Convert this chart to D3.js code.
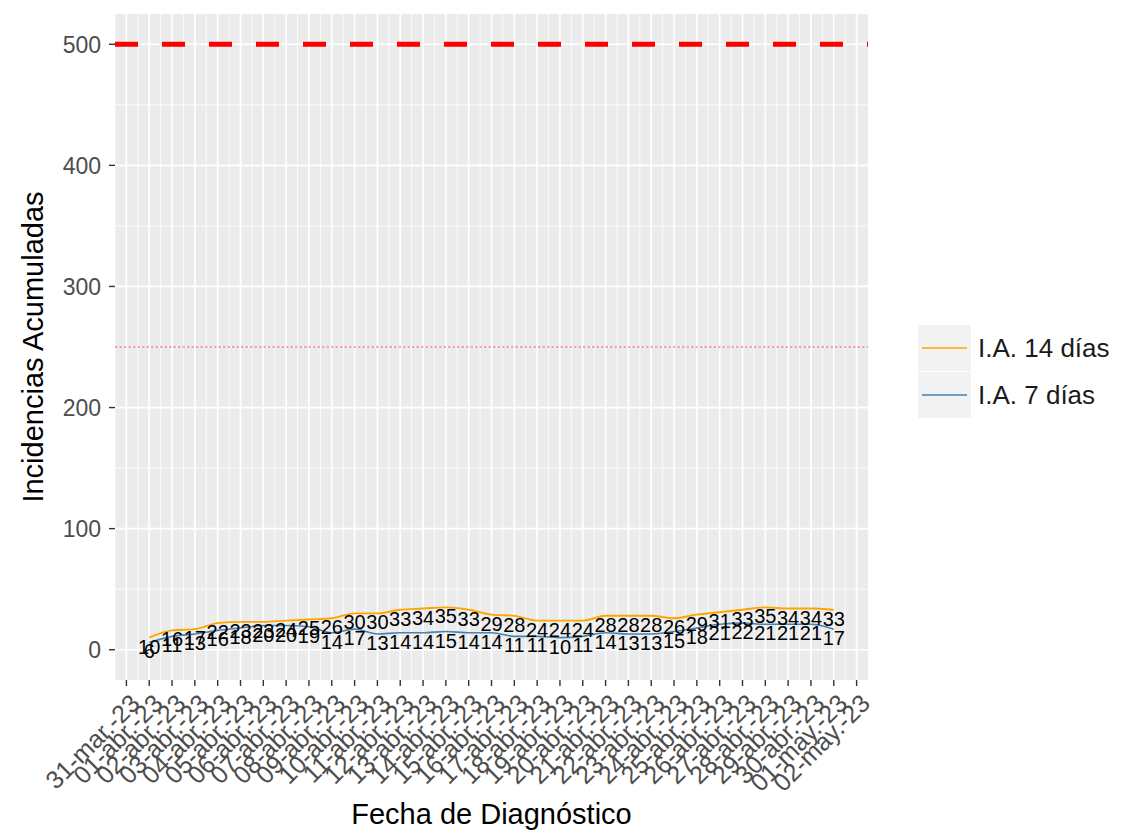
<!DOCTYPE html>
<html><head><meta charset="utf-8">
<script src="https://cdn.jsdelivr.net/npm/d3@7"></script>
<style>body{margin:0;background:#fff}svg{display:block;font-family:"Liberation Sans",Arial,sans-serif}</style>
</head><body>
<svg id="chart" width="1124" height="831"></svg>
<script>
// ---- data ----
const startDate = "2023-04-01";           // first diagnosis date (01-abr-23)
const ia14 = [10,16,17,22,23,23,24,25,26,30,30,33,34,35,33,29,28,24,24,24,28,28,28,26,29,31,33,35,34,34,33];
const ia7  = [6,11,13,16,18,20,20,19,14,17,13,14,14,15,14,14,11,11,10,11,14,13,13,15,18,21,22,21,21,21,17];
const seriesNames = ["I.A. 14 días", "I.A. 7 días"];
const seriesColors = ["#FFA500", "#4682B4"];
const tickStart = "2023-03-31", tickEnd = "2023-05-02";
const monthAbbr = ["ene.","feb.","mar.","abr.","may.","jun.","jul.","ago.","sept.","oct.","nov.","dic."];
const yTicks = [0,100,200,300,400,500];
const yMinor = [50,150,250,350,450];
const thresholdHigh = 500, thresholdMid = 250;

// ---- layout ----
const P = {l:115, r:868, t:14, b:680};
const svg = d3.select("#chart");
const parse = d3.utcParse("%Y-%m-%d");
const d0 = parse(startDate);
const dates = ia14.map((_, i) => d3.utcDay.offset(d0, i));
const span = (dates[dates.length-1] - dates[0]);
const x = d3.scaleUtc().domain([new Date(+dates[0] - span*0.05), new Date(+dates[dates.length-1] + span*0.05)]).range([P.l, P.r]);
const y = d3.scaleLinear().domain([-25, 525]).range([P.b, P.t]);

// panel
svg.append("rect").attr("x",P.l).attr("y",P.t).attr("width",P.r-P.l).attr("height",P.b-P.t).attr("fill","#ebebeb");

const tickDates = d3.utcDay.range(parse(tickStart), d3.utcDay.offset(parse(tickEnd),1));
const minorDates = d3.utcHour.every(12).range(x.domain()[0], x.domain()[1]).filter(d => d.getUTCHours() === 12);

const g = svg.append("g");
g.selectAll(".vmin").data(minorDates).join("line")
  .attr("x1",d=>x(d)).attr("x2",d=>x(d)).attr("y1",P.t).attr("y2",P.b)
  .attr("stroke","#fff").attr("stroke-width",0.8);
g.selectAll(".hmin").data(yMinor).join("line")
  .attr("x1",P.l).attr("x2",P.r).attr("y1",d=>y(d)).attr("y2",d=>y(d))
  .attr("stroke","#fff").attr("stroke-width",0.8);
g.selectAll(".vmaj").data(tickDates).join("line")
  .attr("x1",d=>x(d)).attr("x2",d=>x(d)).attr("y1",P.t).attr("y2",P.b)
  .attr("stroke","#fff").attr("stroke-width",1.7);
g.selectAll(".hmaj").data(yTicks).join("line")
  .attr("x1",P.l).attr("x2",P.r).attr("y1",d=>y(d)).attr("y2",d=>y(d))
  .attr("stroke","#fff").attr("stroke-width",1.7);

// reference lines
svg.append("line").attr("x1",P.l).attr("x2",P.r).attr("y1",y(thresholdHigh)).attr("y2",y(thresholdHigh))
  .attr("stroke","#ff0000").attr("stroke-width",5).attr("stroke-dasharray","23 24");
svg.append("line").attr("x1",P.l).attr("x2",P.r).attr("y1",y(thresholdMid)).attr("y2",y(thresholdMid))
  .attr("stroke","#e8303a").attr("stroke-width",0.8).attr("stroke-dasharray","2.5 2");

// series
const series = [ia14, ia7];
const line = d3.line().x((d,i)=>x(dates[i])).y(d=>y(d)).curve(d3.curveMonotoneX);
series.forEach((s, k) => {
  svg.append("path").attr("d", line(s)).attr("fill","none")
    .attr("stroke", seriesColors[k]).attr("stroke-width", k===0 ? 1.9 : 1.6);
});
series.forEach((s) => {
  svg.append("g").selectAll("text").data(s).join("text")
    .attr("x",(d,i)=>x(dates[i])).attr("y",d=>y(d)+16)
    .attr("text-anchor","middle").attr("font-size",20).attr("fill","#000")
    .text(d=>d);
});

// axes
const fmt = d => `${d3.utcFormat("%d")(d)}-${monthAbbr[d.getUTCMonth()]}-${d3.utcFormat("%y")(d)}`;
const ax = svg.append("g");
ax.selectAll(".xt").data(tickDates).join("line")
  .attr("x1",d=>x(d)).attr("x2",d=>x(d)).attr("y1",P.b).attr("y2",P.b+6)
  .attr("stroke","#333").attr("stroke-width",1.4);
ax.selectAll(".xl").data(tickDates).join("text")
  .attr("transform",d=>`translate(${x(d)+2},${P.b+12}) rotate(-45)`)
  .attr("text-anchor","end").attr("dominant-baseline","hanging")
  .attr("font-size",25).attr("fill","#4d4d4d").text(fmt);
ax.selectAll(".yt").data(yTicks).join("line")
  .attr("x1",P.l-6).attr("x2",P.l).attr("y1",d=>y(d)).attr("y2",d=>y(d))
  .attr("stroke","#333").attr("stroke-width",1.4);
ax.selectAll(".yl").data(yTicks).join("text")
  .attr("x",P.l-14).attr("y",d=>y(d)).attr("dy","0.36em")
  .attr("text-anchor","end").attr("font-size",23).attr("fill","#4d4d4d").text(d=>d);

// titles
svg.append("text").attr("transform",`translate(43,${(P.t+P.b)/2}) rotate(-90)`)
  .attr("text-anchor","middle").attr("font-size",29).attr("fill","#000").text("Incidencias Acumuladas");
svg.append("text").attr("x",(P.l+P.r)/2).attr("y",824)
  .attr("text-anchor","middle").attr("font-size",29).attr("fill","#000").text("Fecha de Diagnóstico");

// legend
const lg = svg.append("g").attr("transform","translate(918,325)");
seriesNames.forEach((n,k) => {
  const cy = 23 + k*47;
  lg.append("rect").attr("x",0).attr("y",k*47).attr("width",53).attr("height",46).attr("fill","#f2f2f2");
  lg.append("line").attr("x1",4).attr("x2",49).attr("y1",cy).attr("y2",cy)
    .attr("stroke",seriesColors[k]).attr("stroke-width",1.6);
  lg.append("text").attr("x",60).attr("y",cy).attr("dy","0.36em")
    .attr("font-size",26).attr("fill","#1a1a1a").text(n);
});
</script>
</body></html>
